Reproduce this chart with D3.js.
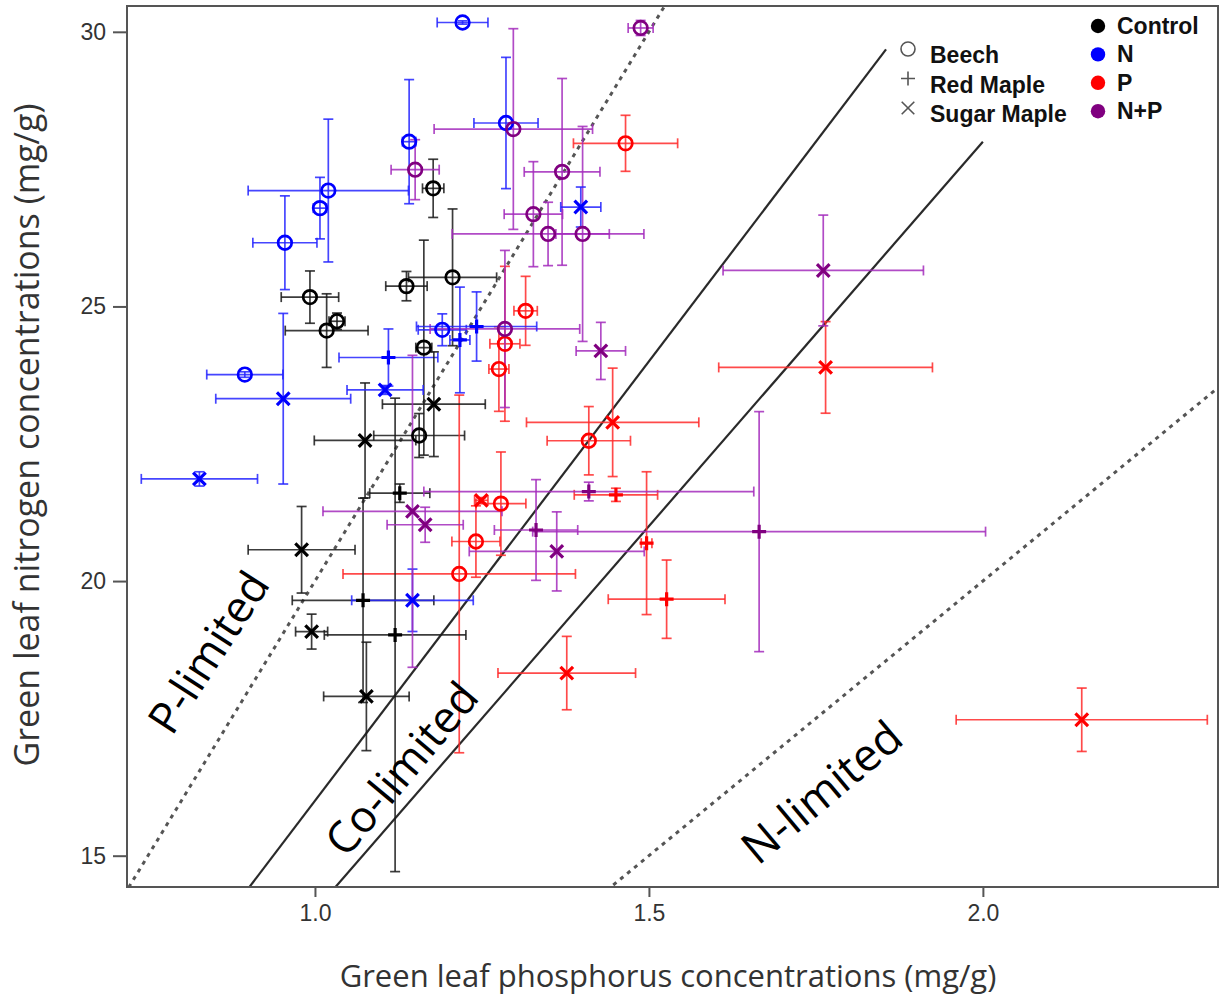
<!DOCTYPE html>
<html><head><meta charset="utf-8">
<script src="https://cdn.jsdelivr.net/npm/d3@7"></script>
<style>body{margin:0;background:#fff} svg{display:block}</style>
</head><body>
<svg id="chart" width="1225" height="1004"></svg>
<script>
const treatments = ["Control", "N", "P", "N+P"];
const markerColors = ["#000000", "#0000ff", "#ff0000", "#800080"];
const barColors = ["#1a1a1a", "#2424ff", "#ff2a2a", "#a32cbc"];
const speciesNames = ["Beech", "Red Maple", "Sugar Maple"];
const xTicks = [1.0, 1.5, 2.0];
const yTicks = [15, 20, 25, 30];
const ratioLines = [20, 16, 14, 10];
const ratioLineEnds = [2.4, 1.855, 2.0, 2.4];
const ratioLineDotted = [true, false, false, true];
const regionLabels = ["P-limited", "Co-limited", "N-limited"];

// [treatment, P (mg/g), N (mg/g), P error, N error]
const beech = [
  ["Control", 0.9925, 25.17, 0.043, 0.476],
  ["Control", 1.033, 24.73, 0.012, 0.15],
  ["Control", 1.0175, 24.56, 0.062, 0.67],
  ["Control", 1.137, 25.37, 0.031, 0.267],
  ["Control", 1.206, 25.53, 0.066, 1.245],
  ["Control", 1.163, 24.25, 0.012, 1.957],
  ["Control", 1.156, 22.65, 0.068, 0.40],
  ["Control", 1.177, 27.15, 0.016, 0.53],
  ["N", 1.141, 28.00, 0.010, 1.13],
  ["N", 1.020, 27.11, 0.120, 1.30],
  ["N", 1.0075, 26.79, 0.010, 0.56],
  ["N", 0.955, 26.16, 0.048, 0.853],
  ["N", 1.221, 30.17, 0.038, 0.03],
  ["N", 1.286, 28.34, 0.048, 1.195],
  ["N", 0.895, 23.76, 0.057, 0.05],
  ["N", 1.1906, 24.575, 0.036, 0.29],
  ["P", 1.465, 27.97, 0.078, 0.51],
  ["P", 1.3154, 24.92, 0.0175, 0.628],
  ["P", 1.2844, 24.32, 0.0225, 1.41],
  ["P", 1.2754, 23.86, 0.015, 0.77],
  ["P", 1.2784, 21.41, 0.0374, 0.94],
  ["P", 1.241, 20.72, 0.036, 0.65],
  ["P", 1.216, 20.13, 0.174, 3.256],
  ["P", 1.410, 22.555, 0.0624, 0.622],
  ["N+P", 1.4876, 30.07, 0.0187, 0.137],
  ["N+P", 1.150, 27.49, 0.036, 0.546],
  ["N+P", 1.297, 28.23, 0.1186, 1.827],
  ["N+P", 1.370, 27.45, 0.0567, 1.70],
  ["N+P", 1.327, 26.68, 0.0437, 0.956],
  ["N+P", 1.349, 26.32, 0.1435, 0.577],
  ["N+P", 1.4007, 26.32, 0.040, 1.957],
  ["N+P", 1.2844, 24.59, 0.112, 1.43]
];

const redMaple = [
  ["Control", 1.127, 21.60, 0.045, 0.167],
  ["Control", 1.072, 19.65, 0.106, 1.86],
  ["Control", 1.120, 19.02, 0.106, 4.31],
  ["N", 1.110, 24.07, 0.074, 0.52],
  ["N", 1.242, 24.635, 0.090, 0.63],
  ["N", 1.217, 24.39, 0.015, 0.962],
  ["P", 1.4506, 21.57, 0.0624, 0.12],
  ["P", 1.4965, 20.69, 0.008, 1.30],
  ["P", 1.5265, 19.67, 0.0874, 0.713],
  ["N+P", 1.410, 21.63, 0.247, 0.17],
  ["N+P", 1.331, 20.93, 0.0624, 0.917],
  ["N+P", 1.665, 20.90, 0.339, 2.185]
];

const sugarMaple = [
  ["Control", 1.075, 22.56, 0.076, 1.047],
  ["Control", 1.178, 23.22, 0.077, 0.953],
  ["Control", 0.980, 20.57, 0.080, 0.788],
  ["Control", 0.995, 19.08, 0.024, 0.318],
  ["Control", 1.077, 17.90, 0.064, 0.987],
  ["N", 1.398, 26.81, 0.030, 0.364],
  ["N", 0.9525, 23.32, 0.101, 1.553],
  ["N", 0.827, 21.86, 0.087, 0.13],
  ["N", 1.105, 23.48, 0.057, 0.08],
  ["N", 1.146, 19.65, 0.091, 0.568],
  ["P", 1.4457, 22.89, 0.129, 0.987],
  ["P", 1.7645, 23.89, 0.160, 0.834],
  ["P", 1.249, 21.47, 0.010, 0.05],
  ["P", 1.377, 18.325, 0.103, 0.668],
  ["P", 2.148, 17.475, 0.188, 0.577],
  ["N+P", 1.761, 25.655, 0.150, 1.008],
  ["N+P", 1.428, 24.19, 0.037, 0.52],
  ["N+P", 1.146, 21.27, 0.134, 2.84],
  ["N+P", 1.165, 21.025, 0.057, 0.319],
  ["N+P", 1.362, 20.54, 0.131, 0.72]
];

// ---------- layout ----------
const svg = d3.select("#chart");
const L = 127, R = 1218, T = 6, B = 887;
const x = d3.scaleLinear().domain([0.7186, 2.352]).range([L, R]);
const y = d3.scaleLinear().domain([14.43, 30.47]).range([B, T]);
const color = d3.scaleOrdinal().domain(treatments).range(markerColors);
const barColor = d3.scaleOrdinal().domain(treatments).range(barColors);

svg.append("rect").attr("width", 1225).attr("height", 1004).attr("fill", "#fff");
svg.append("defs").append("clipPath").attr("id", "plotclip")
  .append("rect").attr("x", L).attr("y", T).attr("width", R - L).attr("height", B - T);

const plot = svg.append("g").attr("clip-path", "url(#plotclip)");

// N:P ratio reference lines
ratioLines.forEach((r, i) => {
  plot.append("line")
    .attr("x1", x(0)).attr("y1", y(0))
    .attr("x2", x(ratioLineEnds[i])).attr("y2", y(r * ratioLineEnds[i]))
    .attr("stroke", ratioLineDotted[i] ? "#555" : "#2a2a2a")
    .attr("stroke-width", ratioLineDotted[i] ? 3 : 2.2)
    .attr("stroke-dasharray", ratioLineDotted[i] ? "4,5" : null);
});

// region labels
const labelAnchors = [[0.839, 18.72, -57], [1.128, 16.60, -50], [1.757, 16.18, -40]];
regionLabels.forEach((t, i) => {
  const a = labelAnchors[i];
  svg.append("text")
    .attr("transform", `translate(${x(a[0])},${y(a[1])}) rotate(${a[2]})`)
    .attr("text-anchor", "middle").attr("dominant-baseline", "central")
    .attr("font-family", "'Open Sans', sans-serif").attr("font-size", i === 2 ? 45 : 44)
    .attr("fill", "#000").text(t);
});

// error bars
const allPoints = [
  ...beech.map(d => ({ s: "Beech", t: d[0], x: d[1], y: d[2], xe: d[3], ye: d[4] })),
  ...redMaple.map(d => ({ s: "Red Maple", t: d[0], x: d[1], y: d[2], xe: d[3], ye: d[4] })),
  ...sugarMaple.map(d => ({ s: "Sugar Maple", t: d[0], x: d[1], y: d[2], xe: d[3], ye: d[4] }))
];
const cap = 5;
const bars = plot.append("g").attr("fill", "none").attr("stroke-width", 1.7).attr("stroke-opacity", 0.85);
allPoints.forEach(p => {
  const g = bars.append("g").attr("stroke", barColor(p.t));
  const cx = x(p.x), cy = y(p.y);
  const x0 = x(p.x - p.xe), x1 = x(p.x + p.xe), y0 = y(p.y - p.ye), y1 = y(p.y + p.ye);
  g.append("line").attr("x1", x0).attr("x2", x1).attr("y1", cy).attr("y2", cy);
  g.append("line").attr("x1", x0).attr("x2", x0).attr("y1", cy - cap).attr("y2", cy + cap);
  g.append("line").attr("x1", x1).attr("x2", x1).attr("y1", cy - cap).attr("y2", cy + cap);
  g.append("line").attr("x1", cx).attr("x2", cx).attr("y1", y0).attr("y2", y1);
  g.append("line").attr("x1", cx - cap).attr("x2", cx + cap).attr("y1", y0).attr("y2", y0);
  g.append("line").attr("x1", cx - cap).attr("x2", cx + cap).attr("y1", y1).attr("y2", y1);
});

// markers
const marks = plot.append("g").attr("fill", "none");
function drawMarker(g, s, cx, cy, c, size, w) {
  if (s === "Beech") {
    g.append("circle").attr("cx", cx).attr("cy", cy).attr("r", size).attr("stroke", c).attr("stroke-width", w);
  } else if (s === "Red Maple") {
    g.append("path").attr("d", `M${cx - size},${cy}H${cx + size}M${cx},${cy - size}V${cy + size}`).attr("stroke", c).attr("stroke-width", w);
  } else {
    const k = size * 0.9;
    g.append("path").attr("d", `M${cx - k},${cy - k}L${cx + k},${cy + k}M${cx - k},${cy + k}L${cx + k},${cy - k}`).attr("stroke", c).attr("stroke-width", w);
  }
}
allPoints.forEach(p => {
  drawMarker(marks, p.s, x(p.x), y(p.y), color(p.t), p.s === "Beech" ? 6.8 : 7, p.s === "Beech" ? 2.7 : 3.2);
});

// frame
svg.append("rect").attr("x", L).attr("y", T).attr("width", R - L).attr("height", B - T)
  .attr("fill", "none").attr("stroke", "#555").attr("stroke-width", 2);

// axes
const yAxis = svg.append("g").attr("transform", `translate(${L},0)`)
  .call(d3.axisLeft(y).tickValues(yTicks).tickSize(14).tickPadding(7).tickFormat(d3.format("d")));
const xAxis = svg.append("g").attr("transform", `translate(0,${B})`)
  .call(d3.axisBottom(x).tickValues(xTicks).tickSize(10).tickPadding(8).tickFormat(d3.format(".1f")));
[yAxis, xAxis].forEach(a => {
  a.select(".domain").remove();
  a.selectAll(".tick line").attr("stroke", "#555").attr("stroke-width", 2);
  a.selectAll(".tick text").attr("font-family", "'Liberation Sans', Arial, sans-serif")
    .attr("font-size", 23).attr("fill", "#333");
});

// axis titles
svg.append("text").attr("transform", "translate(26,435) rotate(-90)")
  .attr("text-anchor", "middle").attr("dominant-baseline", "central")
  .attr("font-family", "'Open Sans', sans-serif").attr("font-size", 34).attr("fill", "#333")
  .text("Green leaf nitrogen concentrations (mg/g)");
svg.append("text").attr("x", 668).attr("y", 975)
  .attr("text-anchor", "middle").attr("dominant-baseline", "central")
  .attr("font-family", "'Open Sans', sans-serif").attr("font-size", 31).attr("fill", "#333")
  .text("Green leaf phosphorus concentrations (mg/g)");

// legends
const legFont = "'Liberation Sans', Arial, sans-serif";
const legT = svg.append("g");
treatments.forEach((t, i) => {
  const cy = 26 + i * 28.4;
  legT.append("circle").attr("cx", 1098).attr("cy", cy).attr("r", 7.2).attr("fill", color(t));
  legT.append("text").attr("x", 1117).attr("y", cy + 8).attr("font-family", legFont)
    .attr("font-weight", "bold").attr("font-size", 23).attr("fill", "#111").text(t);
});
const legS = svg.append("g").attr("fill", "none");
speciesNames.forEach((s, i) => {
  const cy = 49 + i * 29.5;
  drawMarker(legS, s, 908, cy, "#555", 7, 1.6);
  legS.append("text").attr("x", 930).attr("y", cy + 14).attr("font-family", legFont)
    .attr("font-weight", "bold").attr("font-size", 23).attr("fill", "#111").text(s);
});
</script>
</body></html>
